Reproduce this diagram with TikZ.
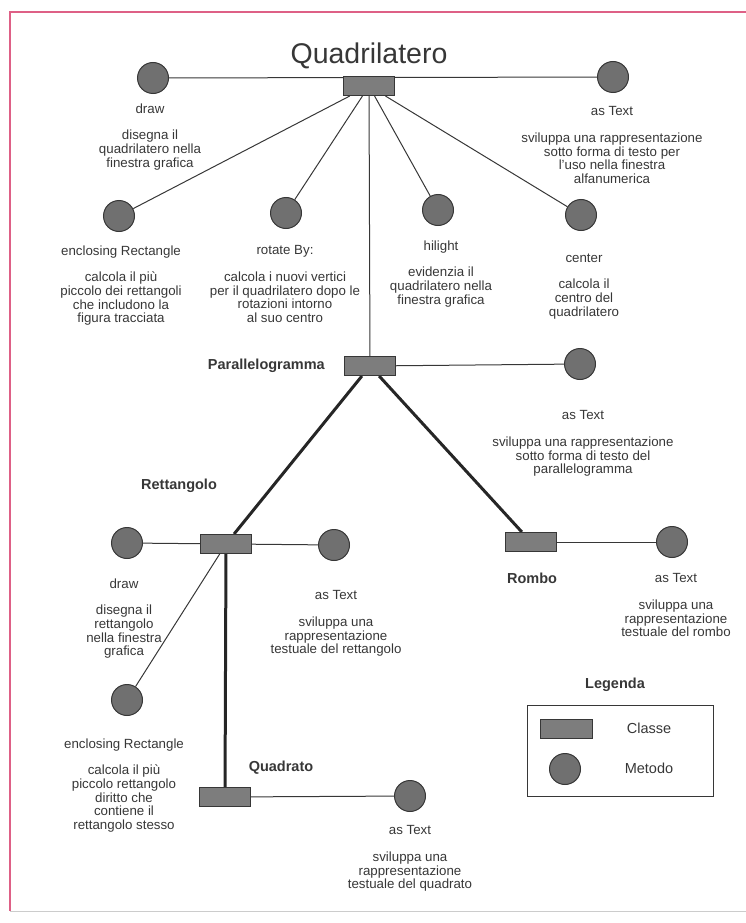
\documentclass[tikz,border=0pt]{standalone}
\usepackage{fontspec}
\setmainfont{Liberation Sans}
\usetikzlibrary{positioning}
\definecolor{framepink}{RGB}{222,96,134}
\definecolor{inkgray}{RGB}{55,55,55}
\definecolor{methodgray}{RGB}{112,112,112}
\definecolor{classgray}{RGB}{125,125,125}
\pgfdeclarelayer{background}
\pgfsetlayers{background,main}

\begin{document}
\begin{tikzpicture}[x=1pt, y=1pt,
  classe/.style={rectangle, draw=inkgray, fill=classgray, line width=1pt, minimum width=51pt, minimum height=19pt, inner sep=0pt},
  metodo/.style={circle, draw=inkgray, fill=methodgray, line width=1pt, minimum size=31pt, inner sep=0pt},
  nome/.style={font=\fontsize{14.5}{15}\selectfont\bfseries, text=inkgray, inner sep=0pt},
  testo/.style={font=\fontsize{13.3}{13.6}\selectfont, text=inkgray, align=center, anchor=north, inner sep=0pt},
  voce/.style={font=\fontsize{14.5}{15}\selectfont, text=inkgray, inner sep=0pt},
  line/.style={draw=inkgray, line width=1pt},
  eredita/.style={draw=black!85, line width=3pt}
]
\useasboundingbox (0,0) rectangle (746,-923);
\draw [framepink, line width=1.6pt] (746,-12) -- (10,-12) -- (10,-911);
\draw [black!20, line width=1pt] (10,-911) -- (746,-911);

\node [font=\fontsize{28.5}{30}\selectfont, text=inkgray, anchor=base, inner sep=0pt] (titolo) at (369,-64) {Quadrilatero};
\node [classe] (quad) at (369,-86) {};
\node [metodo] (qdraw) at (153,-78) {};
\node [metodo] (qtext) at (613,-77) {};
\node [metodo] (qencl) at (119,-216) {};
\node [metodo] (qrot) at (286,-213) {};
\node [metodo] (qhil) at (438,-210) {};
\node [metodo] (qcen) at (581,-215) {};

\node [testo] (tqdraw) at (150,-103.5) {draw\\[13pt]disegna il\\quadrilatero nella\\finestra grafica};
\node [testo] (tqtext) at (612,-106.5) {as Text\\[13pt]sviluppa una rappresentazione\\sotto forma di testo per\\l'uso nella finestra\\alfanumerica};
\node [testo] (tqencl) at (121,-245.5) {enclosing Rectangle\\[13pt]calcola il più\\piccolo dei rettangoli\\che includono la\\figura tracciata};
\node [testo] (tqrot) at (285,-245.5) {rotate By:\\[13pt]calcola i nuovi vertici\\per il quadrilatero dopo le\\rotazioni intorno\\al suo centro};
\node [testo] (tqhil) at (441,-240.5) {hilight\\[13pt]evidenzia il\\quadrilatero nella\\finestra grafica};
\node [testo] (tqcen) at (584,-253.5) {center\\[13pt]calcola il\\centro del\\quadrilatero};

\node [classe] (para) at (370,-366) {};
\node [nome, left=19pt of para] (lpara) {Parallelogramma};
\node [metodo] (ptext) at (580,-364) {};
\node [testo] (tptext) at (583,-410.5) {as Text\\[13pt]sviluppa una rappresentazione\\sotto forma di testo del\\parallelogramma};

\node [classe] (rett) at (226,-544) {};
\node [nome] (lrett) at (179,-486) {Rettangolo};
\node [metodo] (rdraw) at (127,-543) {};
\node [metodo] (rtext) at (334,-545) {};
\node [metodo] (rencl) at (127,-700) {};
\node [testo] (trdraw) at (124,-578.5) {draw\\[13pt]disegna il\\rettangolo\\nella finestra\\grafica};
\node [testo] (trtext) at (336,-590.5) {as Text\\[13pt]sviluppa una\\rappresentazione\\testuale del rettangolo};
\node [testo] (trencl) at (124,-738.5) {enclosing Rectangle\\[13pt]calcola il più\\piccolo rettangolo\\diritto che\\contiene il\\rettangolo stesso};

\node [classe] (rombo) at (531,-542) {};
\node [nome] (lrombo) at (532,-578) {Rombo};
\node [metodo] (otext) at (672,-542) {};
\node [testo] (totext) at (676,-573.5) {as Text\\[13pt]sviluppa una\\rappresentazione\\testuale del rombo};

\node [classe] (quadrato) at (225,-797) {};
\node [nome] (lquadrato) at (281,-768) {Quadrato};
\node [metodo] (stext) at (410,-796) {};
\node [testo] (tstext) at (410,-825.5) {as Text\\[13pt]sviluppa una\\rappresentazione\\testuale del quadrato};

\node [nome] (legenda) at (615,-685) {Legenda};
\node [draw=inkgray, line width=1pt, minimum width=186pt, minimum height=91pt, inner sep=0pt] (legbox) at (620,-750.5) {};
\node [classe, minimum width=52pt] (legclasse) at (566,-729) {};
\node [metodo] (legmetodo) at (565,-769) {};
\node [voce] (lclasse) at (649,-728) {Classe};
\node [voce] (lmetodo) at (649,-768) {Metodo};

\begin{pgfonlayer}{background}
\path [line] (qdraw) -- (qtext);
\path [line] (quad) -- (qencl);
\path [line] (quad) -- (qrot);
\path [line] (quad) -- (qhil);
\path [line] (quad) -- (qcen);
\path [line] (quad) -- (para);
\path [line] (para) -- (ptext);
\path [eredita] (para) -- (rett);
\path [eredita] (para) -- (rombo);
\path [line] (rdraw) -- (rtext);
\path [line] (rett) -- (rencl);
\path [eredita] (rett) -- (quadrato);
\path [line] (quadrato) -- (stext);
\path [line] (rombo) -- (otext);
\end{pgfonlayer}
\end{tikzpicture}
\end{document}
